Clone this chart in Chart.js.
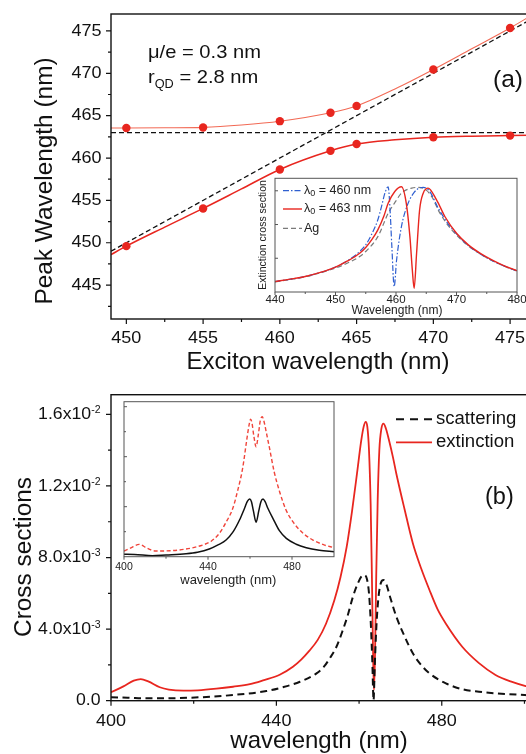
<!DOCTYPE html>
<html><head><meta charset="utf-8">
<script src="https://cdn.jsdelivr.net/npm/chart.js@4/dist/chart.umd.min.js"></script>
<style>
html,body{margin:0;padding:0;background:#fff;overflow:hidden;width:526px;height:754px}
.box{position:absolute}
</style></head><body>
<div style="position:relative;width:526px;height:754px;overflow:hidden;background:#fff">
<div class="box" style="left:0;top:0;width:545px;height:380px"><canvas id="cA"></canvas></div>
<div class="box" style="left:0;top:380px;width:545px;height:374px"><canvas id="cB"></canvas></div>
<div class="box" style="left:250px;top:170px;width:276px;height:150px"><canvas id="cAi"></canvas></div>
<div class="box" style="left:100px;top:395px;width:240px;height:195px"><canvas id="cBi"></canvas></div>
</div>
<script>
// ---------- Panel (a) data ----------
const excitonX = [450, 455, 460, 463.3, 465, 470, 475];
const upperPeak = [463.55, 463.6, 464.35, 465.35, 466.15, 470.45, 475.35];
const lowerPeak = [449.6, 454.05, 458.65, 460.85, 461.65, 462.45, 462.65];
const upperFitX = [449, 450, 452.5, 455, 457.5, 460, 463.3, 465, 467.5, 470, 472.5, 475, 477];
const upperFitY = [463.55, 463.55, 463.57, 463.62, 463.9, 464.35, 465.35, 466.15, 468.15, 470.45, 472.9, 475.35, 477.5];
const lowerFitX = [449, 450, 452.5, 455, 457.5, 460, 463.3, 465, 467.5, 470, 472.5, 475, 477];
const lowerFitY = [448.6, 449.6, 451.85, 454.05, 456.35, 458.65, 460.85, 461.65, 462.15, 462.45, 462.58, 462.65, 462.7];
const plasmonLineX = [449, 477];
const plasmonLineY = [463, 463];
const excitonLineX = [449, 477];
const excitonLineY = [449, 477];
const aXTicks = [450, 455, 460, 465, 470, 475];
const aXMinor = [452.5, 457.5, 462.5, 467.5, 472.5];
const aYTicks = [445, 450, 455, 460, 465, 470, 475];
const aYMinor = [442.5, 447.5, 452.5, 457.5, 462.5, 467.5, 472.5];

// ---------- Inset (a) data ----------
const agX = [440, 442.5, 445, 447.5, 450, 452, 454, 455, 457, 458.7, 460, 460.9, 462.6, 463.7, 465, 466, 467, 468.5, 470, 472, 474, 476, 478, 480];
const agY = [0.30, 0.37, 0.45, 0.57, 0.71, 0.86, 1.05, 1.2, 1.64, 2.33, 2.7, 2.93, 3.08, 3.1, 3.02, 2.8, 2.42, 2.0, 1.69, 1.36, 1.12, 0.92, 0.76, 0.62];
const qd463X = [440, 442.5, 445, 447.5, 450, 452, 454, 455, 456, 457, 458, 458.7, 459.8, 460.9, 461.7, 462.3, 462.7, 463.0, 463.4, 463.9, 464.5, 465.3, 466.7, 468.1, 470, 472, 474, 476, 478, 480];
const qd463Y = [0.31, 0.38, 0.46, 0.58, 0.74, 0.92, 1.15, 1.32, 1.55, 1.84, 2.25, 2.63, 2.98, 3.12, 2.63, 1.64, 0.65, 0.11, 1.14, 2.43, 2.93, 3.08, 2.73, 2.23, 1.74, 1.39, 1.14, 0.94, 0.77, 0.63];
const qd460X = [440, 445, 450, 452, 454, 455, 456, 457, 457.6, 458.2, 458.7, 459.0, 459.3, 459.7, 460.1, 460.9, 462.0, 463, 463.8, 464.5, 465.5, 467, 468.5, 470, 472, 474, 476, 478, 480];
const qd460Y = [0.31, 0.46, 0.74, 0.93, 1.2, 1.4, 1.72, 2.14, 2.53, 2.95, 3.12, 2.5, 1.4, 0.16, 0.95, 1.94, 2.63, 2.95, 3.08, 3.1, 3.0, 2.48, 2.05, 1.72, 1.37, 1.12, 0.92, 0.76, 0.62];
const aiXTicks = [440, 450, 460, 470, 480];
const aiXMinor = [445, 455, 465, 475];
const aiYTicks = [1, 2, 3];

// ---------- Panel (b) data ----------
const extX = [400, 403, 405.5, 407.2, 409, 411.8, 414, 417.5, 421, 425.5, 429.5, 433.6, 437, 440.8, 444, 446, 448, 450, 452, 454, 455.5, 457, 458.3, 459.5, 460.5, 461.1, 461.6, 462.0, 462.4, 462.8, 463.1, 463.4, 463.6, 463.85, 464.15, 464.5, 464.9, 465.4, 465.9, 466.5, 467.3, 468.2, 469, 471, 473, 475, 477, 479, 481, 485, 489, 493, 497, 500.3, 504];
const extY = [0.00047, 0.0008, 0.00112, 0.00121, 0.00108, 0.00075, 0.00062, 0.00056, 0.00058, 0.00067, 0.00078, 0.00092, 0.00115, 0.00145, 0.0019, 0.0023, 0.0028, 0.0034, 0.0043, 0.0056, 0.0069, 0.0086, 0.0106, 0.0127, 0.0145, 0.0153, 0.01558, 0.0153, 0.0140, 0.0110, 0.0070, 0.0025, 0.0006, 0.0025, 0.0070, 0.0112, 0.0140, 0.0152, 0.01548, 0.0152, 0.0145, 0.0136, 0.0127, 0.0107, 0.0088, 0.0074, 0.0062, 0.0051, 0.0043, 0.0030, 0.0021, 0.00144, 0.00105, 0.00082, 0.00068];
const scaX = [400, 404, 408.6, 415, 421.5, 429.6, 437.6, 441.5, 445.7, 449.7, 451.5, 453, 454.5, 456, 457.3, 458.5, 459.6, 460.6, 461.3, 461.9, 462.4, 462.8, 463.2, 463.5, 463.8, 464.2, 464.7, 465.3, 465.9, 466.6, 467.5, 469, 471, 473, 475, 477, 481, 485, 489, 493, 500, 504];
const scaY = [0.00019, 0.00017, 0.00013, 0.00014, 0.00019, 0.00032, 0.00054, 0.00075, 0.00106, 0.00153, 0.0019, 0.0024, 0.0030, 0.0039, 0.0048, 0.0058, 0.0065, 0.00695, 0.00702, 0.0068, 0.0060, 0.0045, 0.0022, 0.00002, 0.0020, 0.0042, 0.0058, 0.0066, 0.00674, 0.0065, 0.0058, 0.0047, 0.0036, 0.00265, 0.0020, 0.00153, 0.00097, 0.00064, 0.0005, 0.00041, 0.00032, 0.00028];
const bXTicks = [400, 440, 480];
const bXMinor = [420, 460, 500];
const bYTicks = [0, 0.004, 0.008, 0.012, 0.016];
const bYMinor = [0.002, 0.006, 0.010, 0.014];
const bYTickMant = ['0.0', '4.0x10', '8.0x10', '1.2x10', '1.6x10'];
const bYTickExp = ['', '-3', '-3', '-2', '-2'];

// ---------- Inset (b) data ----------
const ibExtX = [400, 403, 407.2, 411, 415.1, 422, 429.5, 437.4, 441.5, 445.4, 448.5, 451.8, 454, 456.5, 458.5, 459.5, 460.3, 461.0, 461.8, 462.9, 464.0, 464.9, 465.8, 466.7, 467.7, 469.3, 471.5, 474.1, 477, 480.4, 485, 490, 495, 500];
const ibExtY = [0.114, 0.17, 0.247, 0.17, 0.114, 0.12, 0.153, 0.233, 0.31, 0.467, 0.68, 0.967, 1.3, 1.77, 2.35, 2.62, 2.75, 2.66, 2.42, 2.2, 2.45, 2.72, 2.8, 2.7, 2.5, 2.17, 1.7, 1.3, 0.95, 0.7, 0.48, 0.333, 0.24, 0.18];
const ibScaX = [400, 405, 413.5, 420, 429.5, 435, 440.6, 445, 448.6, 452, 455, 457.5, 458.8, 459.8, 460.7, 461.6, 462.9, 464.2, 465.2, 466.2, 467.2, 468.5, 470.9, 474, 477.3, 482, 486.8, 493, 500];
const ibScaY = [0.047, 0.045, 0.02, 0.035, 0.06, 0.09, 0.153, 0.24, 0.333, 0.5, 0.733, 0.98, 1.11, 1.153, 1.1, 0.92, 0.69, 0.92, 1.1, 1.153, 1.1, 0.97, 0.767, 0.52, 0.367, 0.25, 0.18, 0.13, 0.1];
const biXTicks = [400, 440, 480];
const biXMinor = [420, 460];
const biYTicks = [1, 2, 3];
const biYMinor = [0.5, 1.5, 2.5];

// ---------- helpers ----------
const FONT = '"Liberation Sans", Arial, Helvetica, sans-serif';
const RED = '#e8261f';
function pts(xs, ys) { return xs.map((x, i) => ({ x: x, y: ys[i] })); }
function text(ctx, s, x, y, size, o) {
  o = o || {};
  ctx.save();
  ctx.font = size + 'px ' + FONT;
  ctx.fillStyle = o.color || '#111';
  ctx.textAlign = o.align || 'left';
  ctx.textBaseline = o.base || 'middle';
  ctx.translate(x, y);
  if (o.rot) ctx.rotate(o.rot);
  ctx.scale(o.sx || 1, 1);
  ctx.fillText(s, 0, 0);
  ctx.restore();
}
function runs(ctx, parts, x, y, o) {
  o = o || {};
  const sx = o.sx || 1;
  ctx.save();
  const widths = parts.map(p => { ctx.font = p[1] + 'px ' + FONT; return ctx.measureText(p[0]).width * sx; });
  const total = widths.reduce((a, b) => a + b, 0);
  let cx = o.align === 'right' ? x - total : (o.align === 'center' ? x - total / 2 : x);
  ctx.fillStyle = o.color || '#111';
  ctx.textBaseline = o.base || 'alphabetic';
  ctx.textAlign = 'left';
  parts.forEach((p, i) => {
    ctx.font = p[1] + 'px ' + FONT;
    ctx.save(); ctx.translate(cx, y + (p[2] || 0)); ctx.scale(sx, 1); ctx.fillText(p[0], 0, 0); ctx.restore();
    cx += widths[i];
  });
  ctx.restore();
}
function drawTicks(chart, axis, values, len, dir, color, lw) {
  const ctx = chart.ctx, a = chart.chartArea, sc = chart.scales[axis];
  ctx.save(); ctx.strokeStyle = color; ctx.lineWidth = lw; ctx.beginPath();
  values.forEach(v => {
    const p = sc.getPixelForValue(v);
    if (axis === 'x') { ctx.moveTo(p, a.bottom); ctx.lineTo(p, a.bottom + dir * len); }
    else { ctx.moveTo(a.left, p); ctx.lineTo(a.left - dir * len, p); }
  });
  ctx.stroke(); ctx.restore();
}
function drawFrame(chart, color, lw) {
  const ctx = chart.ctx, a = chart.chartArea;
  ctx.save(); ctx.strokeStyle = color; ctx.lineWidth = lw;
  ctx.strokeRect(a.left, a.top, a.right - a.left, a.bottom - a.top); ctx.restore();
}
function legendLine(ctx, x1, x2, y, color, lw, dash) {
  ctx.save(); ctx.strokeStyle = color; ctx.lineWidth = lw; ctx.setLineDash(dash || []);
  ctx.beginPath(); ctx.moveTo(x1, y); ctx.lineTo(x2, y); ctx.stroke(); ctx.restore();
}
function lineDs(xs, ys, color, width, dash) {
  return { type: 'line', data: pts(xs, ys), borderColor: color, borderWidth: width, borderDash: dash || [],
    pointRadius: 0, fill: false, cubicInterpolationMode: 'monotone', borderCapStyle: 'butt' };
}
function opts(pad, xr, yr) {
  return {
    responsive: true, maintainAspectRatio: false, animation: false, devicePixelRatio: 1,
    layout: { padding: pad },
    plugins: { legend: { display: false }, tooltip: { enabled: false } },
    events: [],
    scales: {
      x: { type: 'linear', min: xr[0], max: xr[1], display: false },
      y: { type: 'linear', min: yr[0], max: yr[1], display: false }
    }
  };
}

// ---------- Panel (a) ----------
new Chart(document.getElementById('cA'), {
  type: 'line',
  data: { datasets: [
    { type: 'scatter', data: pts(excitonX, upperPeak), backgroundColor: RED, borderWidth: 0, pointRadius: 4.2 },
    { type: 'scatter', data: pts(excitonX, lowerPeak), backgroundColor: RED, borderWidth: 0, pointRadius: 4.2 },
    lineDs(upperFitX, upperFitY, '#f26a55', 1.1),
    lineDs(lowerFitX, lowerFitY, RED, 1.5),
    lineDs(plasmonLineX, plasmonLineY, '#111', 1.3, [5, 3]),
    lineDs(excitonLineX, excitonLineY, '#111', 1.3, [5, 3])
  ] },
  options: opts({ left: 111, top: 14, right: 4, bottom: 61 }, [449, 477], [441, 477]),
  plugins: [{ id: 'decoA', afterDraw(chart) {
    const ctx = chart.ctx, sx = chart.scales.x, sy = chart.scales.y;
    drawFrame(chart, '#111', 1.4);
    drawTicks(chart, 'x', aXTicks, 5, 1, '#111', 1.2);
    drawTicks(chart, 'x', aXMinor, 3, 1, '#111', 1.2);
    drawTicks(chart, 'y', aYTicks, 5, 1, '#111', 1.2);
    drawTicks(chart, 'y', aYMinor, 3, 1, '#111', 1.2);
    aXTicks.forEach(v => text(ctx, String(v), sx.getPixelForValue(v), 338.5, 17, { align: 'center', sx: 1.06 }));
    aYTicks.forEach(v => text(ctx, String(v), 101.5, sy.getPixelForValue(v), 17, { align: 'right', sx: 1.06 }));
    text(ctx, 'Exciton wavelength (nm)', 318, 362, 24, { align: 'center' });
    text(ctx, 'Peak Wavelength (nm)', 45, 181, 24.4, { align: 'center', rot: -Math.PI / 2 });
    text(ctx, 'μ/e = 0.3 nm', 148, 57.5, 19, { base: 'alphabetic', sx: 1.06 });
    runs(ctx, [['r', 19], ['QD', 12, 5], [' = 2.8 nm', 19]], 148, 82.5, { sx: 1.06 });
    text(ctx, '(a)', 493, 80, 24.5, {});
  } }]
});

// ---------- Inset (a) ----------
new Chart(document.getElementById('cAi'), {
  type: 'line',
  data: { datasets: [
    lineDs(qd463X, qd463Y, RED, 1.4),
    lineDs(qd460X, qd460Y, '#2f5fd0', 1.2, [6, 2, 1.5, 2]),
    lineDs(agX, agY, '#7a7a7a', 1.2, [5, 3])
  ] },
  options: opts({ left: 25, top: 8.3, right: 9, bottom: 28 }, [440, 480], [0, 3.37]),
  plugins: [{ id: 'decoAi', afterDraw(chart) {
    const ctx = chart.ctx, sx = chart.scales.x;
    drawFrame(chart, '#555', 1);
    drawTicks(chart, 'x', aiXTicks, 3, 1, '#555', 1);
    drawTicks(chart, 'x', aiXMinor, 2, 1, '#555', 1);
    drawTicks(chart, 'y', aiYTicks, 3, -1, '#555', 1);
    aiXTicks.forEach(v => text(ctx, String(v), sx.getPixelForValue(v), 130, 11.5, { align: 'center', color: '#222' }));
    text(ctx, 'Wavelength (nm)', 147, 140.5, 12, { align: 'center', color: '#222' });
    text(ctx, 'Extinction cross section', 13, 65, 10.5, { align: 'center', rot: -Math.PI / 2, color: '#222' });
    legendLine(ctx, 33, 52, 20.7, '#2f5fd0', 1.2, [6, 2, 1.5, 2]);
    runs(ctx, [['λ', 12.5], ['0', 9, 3], [' = 460 nm', 12.5]], 54, 20.7, { base: 'middle', color: '#222' });
    legendLine(ctx, 33, 52, 39, RED, 1.4);
    runs(ctx, [['λ', 12.5], ['0', 9, 3], [' = 463 nm', 12.5]], 54, 39, { base: 'middle', color: '#222' });
    legendLine(ctx, 33, 52, 58.3, '#7a7a7a', 1.2, [5, 3]);
    text(ctx, 'Ag', 54, 58.3, 12.5, { color: '#222' });
  } }]
});

// ---------- Panel (b) ----------
new Chart(document.getElementById('cB'), {
  type: 'line',
  data: { datasets: [
    lineDs(scaX, scaY, '#111', 2, [7, 4.5]),
    lineDs(extX, extY, RED, 1.8)
  ] },
  options: opts({ left: 111, top: 14.7, right: 4, bottom: 53.3 }, [400, 504], [0, 0.0171]),
  plugins: [{ id: 'decoB', afterDraw(chart) {
    const ctx = chart.ctx, sx = chart.scales.x, sy = chart.scales.y;
    drawFrame(chart, '#111', 1.4);
    drawTicks(chart, 'x', bXTicks, 5, 1, '#111', 1.2);
    drawTicks(chart, 'x', bXMinor, 3, 1, '#111', 1.2);
    drawTicks(chart, 'y', bYTicks, 5, 1, '#111', 1.2);
    drawTicks(chart, 'y', bYMinor, 3, 1, '#111', 1.2);
    bXTicks.forEach(v => text(ctx, String(v), sx.getPixelForValue(v), 341.7, 17, { align: 'center', sx: 1.06 }));
    bYTicks.forEach((v, i) => {
      const y = sy.getPixelForValue(v);
      ctx.save(); ctx.font = '10.5px ' + FONT;
      const ew = bYTickExp[i] ? ctx.measureText(bYTickExp[i]).width : 0; ctx.restore();
      if (bYTickExp[i]) text(ctx, bYTickExp[i], 100.5, y - 4, 10.5, { align: 'right' });
      text(ctx, bYTickMant[i], 100.5 - ew, y, 17, { align: 'right', sx: 1.04 });
    });
    text(ctx, 'wavelength (nm)', 319, 361.7, 24, { align: 'center' });
    text(ctx, 'Cross sections', 24, 177, 24.4, { align: 'center', rot: -Math.PI / 2 });
    legendLine(ctx, 396, 432, 39.3, '#111', 2, [8, 6]);
    text(ctx, 'scattering', 436, 39.3, 17.5, { sx: 1.06 });
    legendLine(ctx, 396, 432, 62.3, RED, 1.8);
    text(ctx, 'extinction', 436, 62.3, 17.5, { sx: 1.06 });
    text(ctx, '(b)', 485, 117.7, 23.5, {});
  } }]
});

// ---------- Inset (b) ----------
new Chart(document.getElementById('cBi'), {
  type: 'line',
  data: { datasets: [
    lineDs(ibScaX, ibScaY, '#111', 1.5),
    lineDs(ibExtX, ibExtY, '#f0443a', 1.4, [4, 2.5])
  ] },
  options: opts({ left: 24, top: 6.7, right: 6, bottom: 33.3 }, [400, 500], [0, 3.1]),
  plugins: [{ id: 'decoBi', afterDraw(chart) {
    const ctx = chart.ctx, sx = chart.scales.x;
    drawFrame(chart, '#555', 1);
    drawTicks(chart, 'x', biXTicks, 3, 1, '#555', 1);
    drawTicks(chart, 'x', biXMinor, 2, 1, '#555', 1);
    drawTicks(chart, 'y', biYTicks, 3, -1, '#555', 1);
    drawTicks(chart, 'y', biYMinor, 2, -1, '#555', 1);
    biXTicks.forEach(v => text(ctx, String(v), sx.getPixelForValue(v), 171.7, 10.5, { align: 'center', color: '#222' }));
    text(ctx, 'wavelength (nm)', 128.3, 185.7, 13, { align: 'center', color: '#222' });
  } }]
});
</script>
</body></html>
